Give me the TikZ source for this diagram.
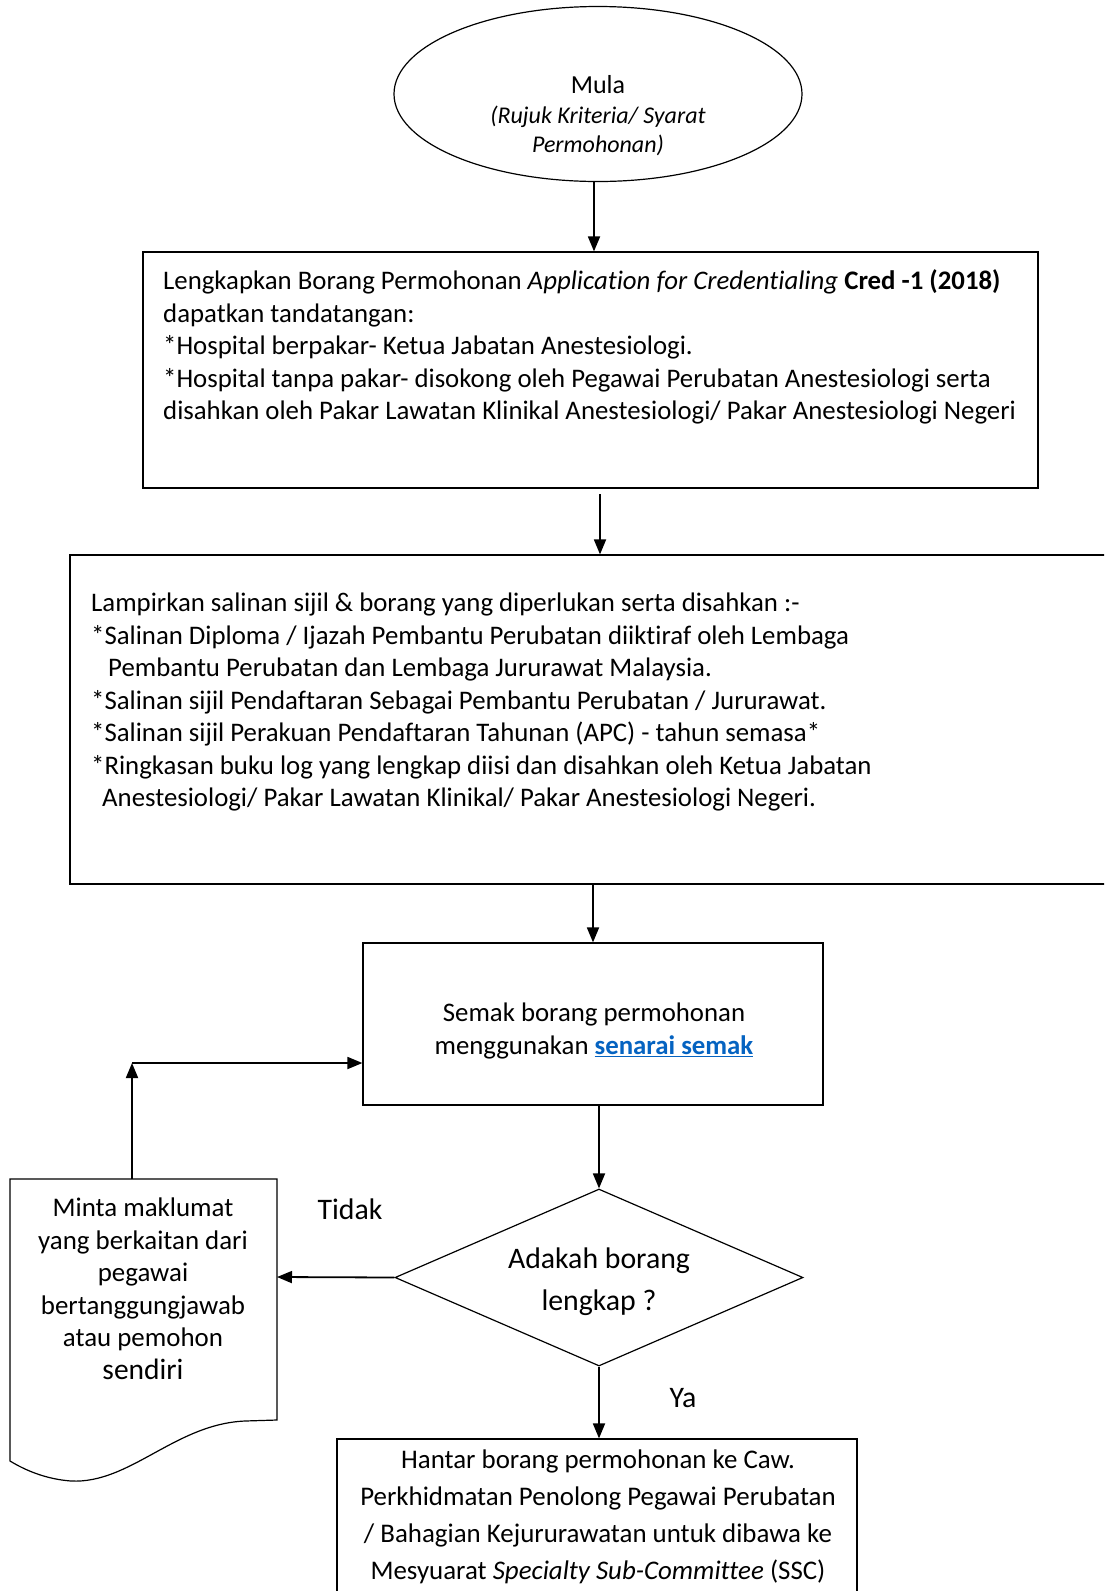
\documentclass[tikz,border=0pt]{standalone}
\usepackage{fontspec}
\setmainfont{Carlito}[Ligatures=NoCommon]
\usetikzlibrary{shapes.geometric,arrows.meta}
\definecolor{linkblue}{HTML}{0563C1}
\tikzset{
  arr/.style={line width=1.8pt,-{Triangle[length=15pt,width=12pt]}},
  boxstyle/.style={draw,line width=1.2pt,rectangle,inner sep=0pt},
  txt/.style={inner sep=0pt,font=\fontsize{26.8}{32.5}\selectfont},
}
\begin{document}
\begin{tikzpicture}[x=1pt,y=-1pt]
\clip (0,0) rectangle (1104,1591);
\fill[white] (0,0) rectangle (1104,1591);
% start ellipse
\node[draw,line width=1.2pt,ellipse,minimum width=408pt,minimum height=175pt,inner sep=0pt] (e) at (598,94) {};
\node[inner sep=0pt,align=center,font=\fontsize{24}{29}\selectfont] (et) at (598,115.5) {{\fontsize{26}{29}\selectfont Mula}\\[1pt]\textit{(Rujuk Kriteria/ Syarat}\\\textit{Permohonan)}};
% box 1
\node[boxstyle,minimum width=895pt,minimum height=236pt] (b1) at (590.5,370) {};
\node[txt,anchor=west,align=left] (b1t) at (163,347) {Lengkapkan Borang Permohonan \textit{Application for Credentialing} \textbf{Cred -1 (2018)}\\dapatkan tandatangan:\\*Hospital berpakar- Ketua Jabatan Anestesiologi.\\*Hospital tanpa pakar- disokong oleh Pegawai Perubatan Anestesiologi serta\\disahkan oleh Pakar Lawatan Klinikal Anestesiologi/ Pakar Anestesiologi Negeri};
% box 2
\node[boxstyle,minimum width=1040pt,minimum height=329pt] (b2) at (590,719.5) {};
\node[txt,anchor=west,align=left] (b2t) at (91,702) {Lampirkan salinan sijil \& borang yang diperlukan serta disahkan :-\\*Salinan Diploma / Ijazah Pembantu Perubatan diiktiraf oleh Lembaga\\\hspace*{17pt}Pembantu Perubatan dan Lembaga Jururawat Malaysia.\\*Salinan sijil Pendaftaran Sebagai Pembantu Perubatan / Jururawat.\\*Salinan sijil Perakuan Pendaftaran Tahunan (APC) - tahun semasa*\\*Ringkasan buku log yang lengkap diisi dan disahkan oleh Ketua Jabatan\\\hspace*{11pt}Anestesiologi/ Pakar Lawatan Klinikal/ Pakar Anestesiologi Negeri.};
% box 3
\node[boxstyle,minimum width=460pt,minimum height=162pt] (b3) at (593,1024) {};
\node[txt,align=center] (b3t) at (594,1031) {Semak borang permohonan\\menggunakan {\color{linkblue}\underline{\textbf{senarai semak}}}};
% diamond
\node[draw,line width=1.2pt,diamond,minimum width=408pt,minimum height=177pt,inner sep=0pt] (d) at (599,1277.5) {};
\node[inner sep=0pt,align=center,font=\fontsize{29.8}{42}\selectfont] (dt) at (599,1281.5) {Adakah borang\\lengkap ?};
% document shape
\draw[line width=1.2pt] (10,1179) -- (277,1179) -- (277,1420) -- (245,1421)
  .. controls (175,1424) and (130,1484) .. (71,1481)
  .. controls (45,1479) and (25,1470) .. (10,1461) -- cycle;
\coordinate (docR) at (277,1277);
\coordinate (docT) at (132,1179);
\coordinate (corner) at (132,1063);
\node[inner sep=0pt,align=center,font=\fontsize{26.9}{32.5}\selectfont] (doct) at (143,1289) {Minta maklumat\\yang berkaitan dari\\pegawai\\bertanggungjawab\\atau pemohon\\{\fontsize{29.5}{32.5}\selectfont sendiri}};
% box 4
\node[boxstyle,minimum width=520pt,minimum height=161pt] (b4) at (597,1519.5) {};
\node[inner sep=0pt,align=center,font=\fontsize{26.9}{37}\selectfont] (b4t) at (598,1516.5) {Hantar borang permohonan ke Caw.\\Perkhidmatan Penolong Pegawai Perubatan\\/ Bahagian Kejururawatan untuk dibawa ke\\Mesyuarat \textit{Specialty Sub-Committee} (SSC)};
% labels
\node[inner sep=0pt,font=\fontsize{29.8}{32}\selectfont] (tidak) at (350,1209) {Tidak};
\node[inner sep=0pt,font=\fontsize{29.8}{32}\selectfont] (ya) at (683,1398) {Ya};
% connectors
\coordinate (a2s) at (600,494);
\draw[arr] (e.south -| 594,0) -- (594,0 |- b1.north);
\draw[arr] (a2s) -- (a2s |- b2.north);
\draw[arr] (b3.north |- b2.south) -- (b3.north);
\draw[arr] (d.north |- b3.south) -- (d.north);
\draw[arr] (d.west) -- (docR);
\draw[arr] (docT) -- (corner);
\draw[arr] (corner) -- (corner -| b3.west);
\draw[arr] (d.south) -- (d.south |- b4.north);
\end{tikzpicture}
\end{document}
